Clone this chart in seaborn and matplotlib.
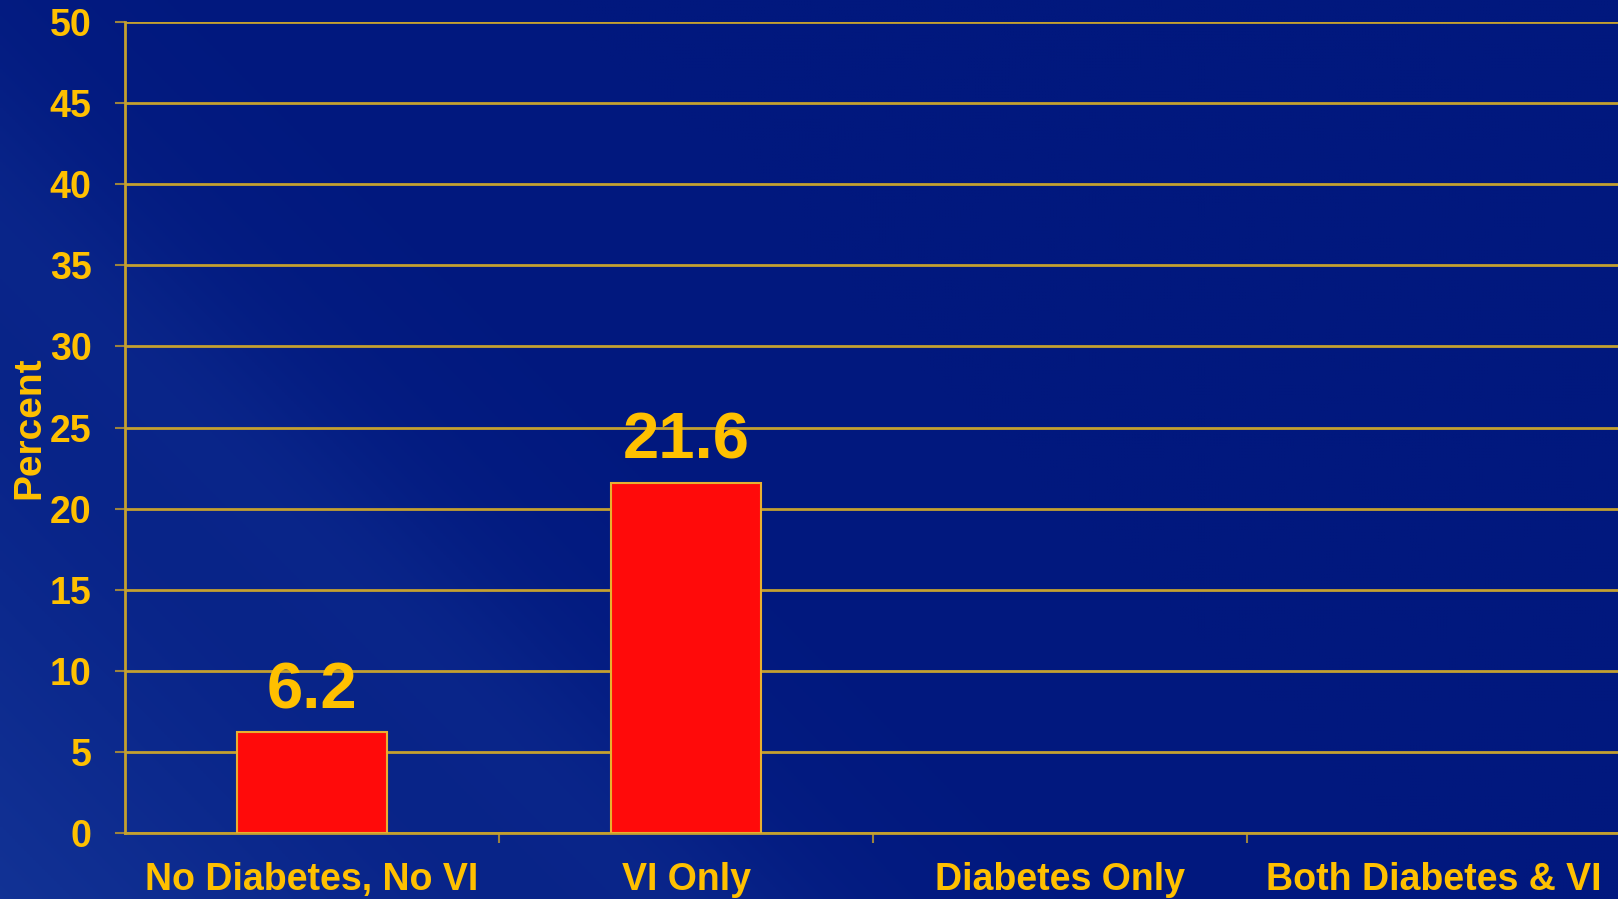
import numpy as np
import pandas as pd
import matplotlib
matplotlib.use("Agg")
import matplotlib.pyplot as plt
import seaborn as sns
from matplotlib.ticker import FixedLocator

# Dados do gráfico
categorias = ["No Diabetes, No VI", "VI Only", "Diabetes Only", "Both Diabetes & VI"]
percentuais = [6.2, 21.6, np.nan, np.nan]
y_ticks = list(range(0, 55, 5))

df = pd.DataFrame({"grupo": categorias, "percent": percentuais})

# Cores
gold = "#FFC000"
grid_gold = "#C4A030"
tick_gold = "#9C833E"
bar_red = "#FF0A0A"
bg_blue = "#01187E"

sns.set_theme(style="white")
plt.rcParams["font.family"] = ["Liberation Sans", "DejaVu Sans"]
plt.rcParams["font.weight"] = "bold"

fig = plt.figure(figsize=(16.18, 8.99), dpi=100)
fig.patch.set_facecolor(bg_blue)

# Fundo em degradê (faixas diagonais mais claras à esquerda)
bg = fig.add_axes([0, 0, 1, 1], zorder=-10)
yy, xx = np.mgrid[0:1:300j, 0:1:540j]
d = xx * 1.0 + (1 - yy) * 0.55
light = np.clip(1 - d / 0.75, 0, 1) ** 1.6 * 0.55
band = np.exp(-((d - 0.42) / 0.08) ** 2) * 0.12
t = np.clip(light + band, 0, 1)
c0 = np.array([0x01, 0x18, 0x7E]) / 255
c1 = np.array([0x20, 0x48, 0xA8]) / 255
img = c0[None, None, :] * (1 - t[..., None]) + c1[None, None, :] * t[..., None]
bg.imshow(img, aspect="auto", extent=[0, 1, 0, 1], origin="upper")
bg.axis("off")

ax = fig.add_axes([0.0773, 0.0734, 0.9246, 0.9021])
ax.set_facecolor("none")

sns.barplot(data=df.dropna(), x="grupo", y="percent", order=categorias,
            color=bar_red, saturation=1, width=0.4, edgecolor="#E8B030",
            linewidth=1.5, ax=ax, zorder=3)

ax.set_xlim(-0.5, 3.5)
ax.set_ylim(0, 50)
ax.yaxis.set_major_locator(FixedLocator(y_ticks))
ax.grid(axis="y", color=grid_gold, linewidth=2, zorder=0)
ax.set_axisbelow(True)

for s in ["top", "right"]:
    ax.spines[s].set_visible(False)
for s in ["left", "bottom"]:
    ax.spines[s].set_color(grid_gold)
    ax.spines[s].set_linewidth(2)

# Rótulos dos eixos
ax.tick_params(axis="y", which="major", length=7, width=1.5, color=tick_gold,
               pad=17, labelsize=27, labelcolor=gold, left=True)
ax.tick_params(axis="x", which="major", length=0, pad=21, labelsize=27, labelcolor=gold)
ax.xaxis.set_minor_locator(FixedLocator([0.5, 1.5, 2.5]))
ax.tick_params(axis="x", which="minor", length=7, width=1.5, color=tick_gold, bottom=True)
for lbl in ax.get_xticklabels() + ax.get_yticklabels():
    lbl.set_fontweight("bold")

ax.set_xlabel("")
ax.set_ylabel("Percent", color=gold, fontsize=28, fontweight="bold")
ax.yaxis.set_label_coords(-0.052, 0.5)

# Valores sobre as barras
for cont in ax.containers:
    ax.bar_label(cont, fmt="%.1f", padding=8, color=gold, fontsize=47, fontweight="bold")

fig.savefig("out.png", dpi=100, facecolor=fig.get_facecolor())
